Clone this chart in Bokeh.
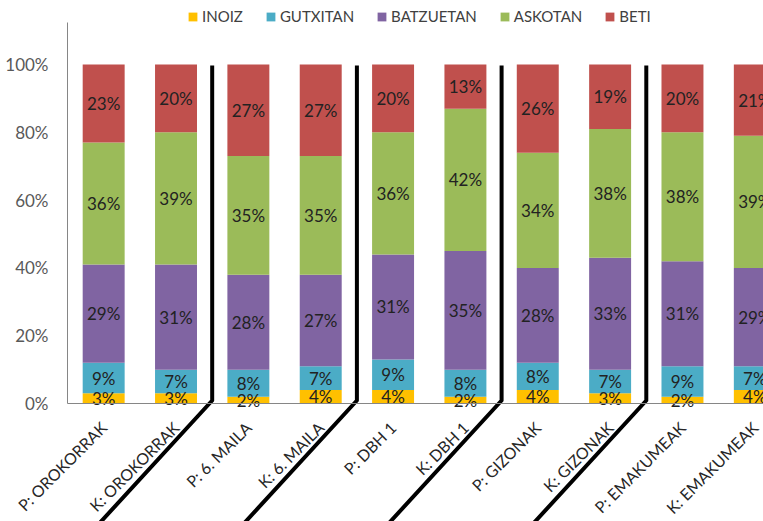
import math
from bokeh.plotting import figure
from bokeh.models import (ColumnDataSource, Range1d, FixedTicker, Legend, LegendItem)
from bokeh.core.properties import value
from bokeh.embed import file_html
from bokeh.resources import INLINE

categories = ["P: OROKORRAK", "K: OROKORRAK", "P: 6. MAILA", "K: 6. MAILA",
              "P: DBH 1", "K: DBH 1", "P: GIZONAK", "K: GIZONAK",
              "P: EMAKUMEAK", "K: EMAKUMEAK"]
series_names = ["INOIZ", "GUTXITAN", "BATZUETAN", "ASKOTAN", "BETI"]
inoiz = [3, 3, 2, 4, 4, 2, 4, 3, 2, 4]
gutxitan = [9, 7, 8, 7, 9, 8, 8, 7, 9, 7]
batzuetan = [29, 31, 28, 27, 31, 35, 28, 33, 31, 29]
askotan = [36, 39, 35, 35, 36, 42, 34, 38, 38, 39]
beti = [23, 20, 27, 27, 20, 13, 26, 19, 20, 21]
y_ticks = [0, 20, 40, 60, 80, 100]

colors = ["#FFC000", "#4BACC6", "#8064A2", "#9BBB59", "#C0504D"]
series = [inoiz, gutxitan, batzuetan, askotan, beti]
FONT = "Lato"

xs = list(range(len(categories)))
data = {"x": xs}
for name, vals in zip(series_names, series):
    data[name] = vals
src = ColumnDataSource(data)

X0, X1 = -0.5, 9.12
p = figure(width=763, height=521,
           min_border_left=0, min_border_right=0, min_border_top=0, min_border_bottom=0,
           x_range=Range1d(-1.426, X1), y_range=Range1d(-34.8, 118.9),
           output_backend="svg", toolbar_location=None)
p.outline_line_color = None
p.xgrid.visible = False
p.ygrid.visible = False
p.background_fill_color = "white"
p.border_fill_color = "white"

rs = p.vbar_stack(series_names, x="x", width=0.58, color=colors, source=src, line_color=None)

# data labels
lx, ly, lt = [], [], []
for i in xs:
    cum = 0
    for vals in series:
        v = vals[i]
        lx.append(i)
        ly.append(cum + v / 2)
        lt.append(f"{v}%")
        cum += v
lsrc = ColumnDataSource(dict(x=lx, y=ly, t=lt))
p.text(x="x", y="y", text="t", source=lsrc, text_align="center", text_baseline="middle",
       text_font=value(FONT), text_font_size="17px", text_color="#222222")

# separators between groups (pairs): vertical then diagonal into the label area
bounds = [i + 1.5 for i in range(0, len(categories) - 2, 2)]
sep_xs = [[b, b, b - 1.76] for b in bounds]
sep_ys = [[99.7, 0.9, -40] for _ in bounds]
p.multi_line(xs=sep_xs, ys=sep_ys, line_color="black", line_width=4, line_join="round")

# axes
p.yaxis.fixed_location = X0
p.yaxis.bounds = (0, 112.4)
p.yaxis.ticker = FixedTicker(ticks=y_ticks)
p.yaxis.major_label_overrides = {t: f"{t}%" for t in y_ticks}
p.yaxis.major_tick_line_color = None
p.yaxis.minor_tick_line_color = None
p.yaxis.axis_line_color = "#868686"
p.yaxis.major_label_text_font = FONT
p.yaxis.major_label_text_font_size = "17px"
p.yaxis.major_label_text_color = "#595959"
p.yaxis.major_label_standoff = 13

p.xaxis.fixed_location = 0
p.xaxis.bounds = (X0, X1)
p.xaxis.ticker = FixedTicker(ticks=xs)
p.xaxis.major_label_overrides = {i: c for i, c in zip(xs, categories)}
p.xaxis.major_label_orientation = math.pi / 4
p.xaxis.major_tick_line_color = None
p.xaxis.minor_tick_line_color = None
p.xaxis.axis_line_color = "#868686"
p.xaxis.major_label_text_font = FONT
p.xaxis.major_label_text_font_size = "16px"
p.xaxis.major_label_text_color = "#262626"
p.xaxis.major_label_standoff = 15

legend = Legend(items=[LegendItem(label=n, renderers=[r]) for n, r in zip(series_names, rs)],
                orientation="horizontal", location=(187, 496),
                glyph_width=11, glyph_height=11, label_standoff=4, spacing=22,
                padding=0, margin=0, border_line_color=None, background_fill_alpha=0,
                label_text_font=FONT, label_text_font_size="15px",
                label_text_color="#404040", label_height=14)
p.add_layout(legend, "center")

open("out.html", "w").write(file_html(p, INLINE))
